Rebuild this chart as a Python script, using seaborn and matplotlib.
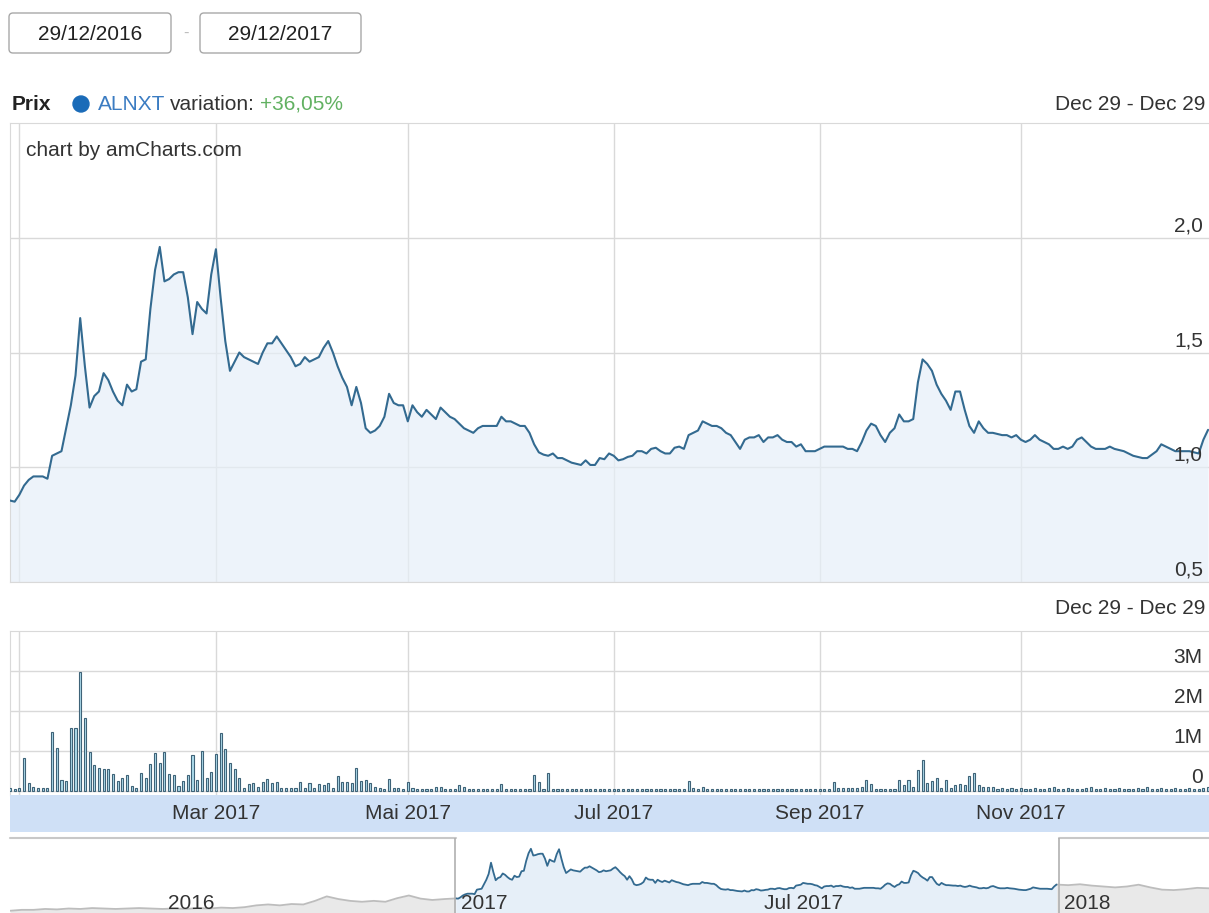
import numpy as np
import pandas as pd
import matplotlib
matplotlib.use("Agg")
import matplotlib.pyplot as plt
import matplotlib.transforms as mtransforms
from matplotlib.patches import FancyBboxPatch, Circle
import seaborn as sns

# --- data -------------------------------------------------------------
# Euronext trading days 29/12/2016 -> 29/12/2017
holidays = ["2017-04-14", "2017-04-17", "2017-05-01", "2017-12-25", "2017-12-26"]
days = pd.bdate_range("2016-12-29", "2017-12-29")
days = days[~days.isin(pd.to_datetime(holidays))]

price = [
    0.855, 0.85, 0.88, 0.92, 0.945, 0.96, 0.96, 0.96, 0.95, 1.05,
    1.06, 1.07, 1.17, 1.27, 1.40, 1.65, 1.44, 1.26, 1.31, 1.33,
    1.41, 1.38, 1.33, 1.29, 1.27, 1.36, 1.33, 1.34, 1.46, 1.47,
    1.69, 1.86, 1.96, 1.81, 1.82, 1.84, 1.85, 1.85, 1.74, 1.58,
    1.72, 1.69, 1.67, 1.84, 1.95, 1.74, 1.55, 1.42, 1.46, 1.50,
    1.48, 1.47, 1.46, 1.45, 1.50, 1.54, 1.54, 1.57, 1.54, 1.51,
    1.48, 1.44, 1.45, 1.48, 1.46, 1.47, 1.48, 1.52, 1.55, 1.50,
    1.44, 1.39, 1.35, 1.27, 1.35, 1.28, 1.17, 1.15, 1.16, 1.18,
    1.22, 1.32, 1.28, 1.27, 1.27, 1.20, 1.27, 1.24, 1.22, 1.25,
    1.23, 1.21, 1.26, 1.24, 1.22, 1.21, 1.19, 1.17, 1.16, 1.15,
    1.17, 1.18, 1.18, 1.18, 1.18, 1.22, 1.20, 1.20, 1.19, 1.18,
    1.18, 1.15, 1.10, 1.065, 1.055, 1.05, 1.06, 1.04, 1.04, 1.03,
    1.02, 1.015, 1.01, 1.03, 1.01, 1.01, 1.04, 1.035, 1.06, 1.05,
    1.03, 1.035, 1.045, 1.05, 1.07, 1.07, 1.06, 1.08, 1.085, 1.07,
    1.06, 1.06, 1.085, 1.09, 1.08, 1.14, 1.15, 1.16, 1.20, 1.19,
    1.18, 1.18, 1.17, 1.15, 1.14, 1.11, 1.08, 1.12, 1.13, 1.13,
    1.14, 1.11, 1.13, 1.13, 1.14, 1.12, 1.11, 1.11, 1.09, 1.10,
    1.07, 1.07, 1.07, 1.08, 1.09, 1.09, 1.09, 1.09, 1.09, 1.08,
    1.08, 1.07, 1.11, 1.16, 1.19, 1.18, 1.14, 1.11, 1.15, 1.17,
    1.23, 1.20, 1.20, 1.21, 1.37, 1.47, 1.45, 1.42, 1.36, 1.32,
    1.29, 1.25, 1.33, 1.33, 1.25, 1.18, 1.15, 1.20, 1.17, 1.15,
    1.15, 1.145, 1.14, 1.14, 1.13, 1.14, 1.12, 1.11, 1.12, 1.14,
    1.12, 1.11, 1.10, 1.08, 1.08, 1.09, 1.08, 1.09, 1.12, 1.13,
    1.11, 1.09, 1.08, 1.08, 1.08, 1.09, 1.08, 1.075, 1.07, 1.06,
    1.05, 1.045, 1.04, 1.04, 1.055, 1.07, 1.10, 1.09, 1.08, 1.07,
    1.07, 1.07, 1.07, 1.065, 1.06, 1.12, 1.163,
]

# volume in millions
volume = [
    0.08, 0.06, 0.08, 0.83, 0.19, 0.11, 0.08, 0.08, 0.08, 1.48,
    1.08, 0.28, 0.25, 1.58, 1.58, 2.98, 1.83, 0.98, 0.64, 0.58,
    0.56, 0.54, 0.42, 0.25, 0.33, 0.39, 0.13, 0.08, 0.44, 0.33,
    0.67, 0.94, 0.69, 0.98, 0.42, 0.39, 0.13, 0.25, 0.39, 0.89,
    0.28, 1.00, 0.33, 0.48, 0.92, 1.44, 1.04, 0.69, 0.54, 0.33,
    0.08, 0.17, 0.19, 0.11, 0.22, 0.29, 0.19, 0.22, 0.08, 0.08,
    0.08, 0.08, 0.22, 0.08, 0.21, 0.08, 0.17, 0.14, 0.20, 0.08,
    0.38, 0.23, 0.23, 0.20, 0.58, 0.25, 0.28, 0.21, 0.11, 0.08,
    0.06, 0.31, 0.08, 0.08, 0.06, 0.23, 0.08, 0.06, 0.05, 0.06,
    0.05, 0.11, 0.11, 0.05, 0.06, 0.05, 0.14, 0.11, 0.05, 0.04,
    0.05, 0.04, 0.06, 0.04, 0.05, 0.18, 0.06, 0.05, 0.04, 0.05,
    0.04, 0.06, 0.39, 0.23, 0.05, 0.44, 0.06, 0.04, 0.05, 0.04,
    0.05, 0.04, 0.04, 0.05, 0.04, 0.04, 0.05, 0.04, 0.04, 0.05,
    0.04, 0.05, 0.04, 0.04, 0.05, 0.04, 0.04, 0.05, 0.04, 0.04,
    0.05, 0.04, 0.04, 0.06, 0.05, 0.25, 0.08, 0.05, 0.11, 0.04,
    0.05, 0.04, 0.04, 0.05, 0.04, 0.04, 0.05, 0.04, 0.04, 0.06,
    0.04, 0.05, 0.04, 0.04, 0.06, 0.04, 0.04, 0.05, 0.04, 0.04,
    0.05, 0.04, 0.04, 0.05, 0.04, 0.06, 0.23, 0.07, 0.07, 0.07,
    0.07, 0.07, 0.11, 0.28, 0.17, 0.05, 0.05, 0.05, 0.05, 0.06,
    0.28, 0.15, 0.28, 0.11, 0.53, 0.78, 0.19, 0.25, 0.33, 0.08,
    0.28, 0.08, 0.15, 0.17, 0.15, 0.38, 0.44, 0.15, 0.11, 0.11,
    0.11, 0.06, 0.07, 0.06, 0.07, 0.06, 0.07, 0.06, 0.06, 0.07,
    0.06, 0.06, 0.07, 0.10, 0.06, 0.06, 0.07, 0.06, 0.06, 0.06,
    0.07, 0.10, 0.06, 0.06, 0.07, 0.06, 0.06, 0.07, 0.06, 0.06,
    0.06, 0.07, 0.06, 0.10, 0.06, 0.06, 0.07, 0.06, 0.06, 0.07,
    0.06, 0.06, 0.07, 0.06, 0.06, 0.08, 0.10,
]

# scrollbar context series (weekly), before and after the selected year
scroll_2015 = [0.58, 0.60, 0.60, 0.62, 0.61, 0.63, 0.62, 0.64, 0.63, 0.62, 0.63, 0.64, 0.63]
scroll_2016 = [0.62, 0.63, 0.62, 0.64, 0.63, 0.65, 0.64, 0.66, 0.70, 0.72, 0.70, 0.73, 0.72,
               0.80, 0.90, 0.84, 0.80, 0.78, 0.80, 0.78, 0.86, 0.92, 0.85, 0.82, 0.84]
scroll_2018 = [1.15, 1.17, 1.14, 1.12, 1.10, 1.12, 1.16, 1.10, 1.05, 1.04, 1.06, 1.09, 1.08]

price_ticks = [0.5, 1.0, 1.5, 2.0]
price_tick_labels = ["0,5", "1,0", "1,5", "2,0"]
vol_ticks = [0, 1, 2, 3]
vol_tick_labels = ["0", "1M", "2M", "3M"]
grid_months = [1, 3, 5, 7, 9, 11]
month_labels = ["Mar 2017", "Mai 2017", "Jul 2017", "Sep 2017", "Nov 2017"]

# --- style ------------------------------------------------------------
sns.set_style("white")
plt.rcParams["font.family"] = ["Liberation Sans", "DejaVu Sans"]
FS = 15
LINE = "#336a90"
FILL = "#e6eff8"
GRID = "#d9d9d9"
TXT = "#333333"

idx = np.arange(len(days))
assert len(price) == len(days) and len(volume) == len(days)
in2017 = days.year == 2017
month_idx = [int(np.where(in2017 & (days.month == m))[0][0]) for m in grid_months]

W, H = 1209, 913
fig = plt.figure(figsize=(W / 100, H / 100), dpi=100)


def frac(x0, y0, x1, y1):
    return [x0 / W, 1 - y1 / H, (x1 - x0) / W, (y1 - y0) / H]


def px(x, y):
    return x / W, 1 - y / H


xmax = len(days) - 0.8

# --- price panel ------------------------------------------------------
ax_p = fig.add_axes(frac(10, 123, 1209, 582))
ax_p.fill_between(idx, price, 0.5, color=FILL, alpha=0.7, lw=0, zorder=1)
sns.lineplot(x=idx, y=price, ax=ax_p, color=LINE, linewidth=1.5, zorder=3)
ax_p.set_xlim(0, xmax)
ax_p.set_ylim(0.5, 2.5)
for v in price_ticks:
    ax_p.axhline(v, color=GRID, lw=1, zorder=0.5)
for m in month_idx:
    ax_p.axvline(m, color=GRID, lw=1, zorder=0.5)
for v, lab in zip(price_ticks, price_tick_labels):
    ax_p.annotate(lab, xy=(1, v), xycoords=("axes fraction", "data"), xytext=(-4.5, 8.5),
                  textcoords="offset points", ha="right", va="center", fontsize=FS, color=TXT)
ax_p.set_xticks([]); ax_p.set_yticks([])
ax_p.set_xlabel(""); ax_p.set_ylabel("")
for s in ["left", "top", "bottom"]:
    ax_p.spines[s].set_color(GRID)
ax_p.spines["right"].set_visible(False)
ax_p.text(16 / 1199, 1 - 27 / 459, "chart by amCharts.com", transform=ax_p.transAxes,
          fontsize=FS, color=TXT, ha="left", va="center")

# --- volume panel -----------------------------------------------------
ax_v = fig.add_axes(frac(10, 631, 1209, 795))
sns.barplot(x=idx, y=volume, ax=ax_v, native_scale=True, width=0.45, color="#aedcec",
            saturation=1, edgecolor="#3f6378", linewidth=0.8, errorbar=None, zorder=3)
ax_v.set_xlim(0, xmax)
ax_v.set_ylim(-0.1, 4.0)
for v in vol_ticks:
    ax_v.axhline(v, color=GRID, lw=1, zorder=0.5)
for m in month_idx:
    ax_v.axvline(m, color=GRID, lw=1, zorder=0.5)
for v, lab in zip(vol_ticks, vol_tick_labels):
    ax_v.annotate(lab, xy=(1, v), xycoords=("axes fraction", "data"), xytext=(-4.5, 10),
                  textcoords="offset points", ha="right", va="center", fontsize=FS, color=TXT)
ax_v.set_xticks([]); ax_v.set_yticks([])
ax_v.set_xlabel(""); ax_v.set_ylabel("")
for s in ["left", "top"]:
    ax_v.spines[s].set_color(GRID)
ax_v.spines["right"].set_visible(False)
ax_v.spines["bottom"].set_visible(False)

# --- category axis band -----------------------------------------------
ax_b = fig.add_axes(frac(10, 795, 1209, 832))
ax_b.set_facecolor("#cfe0f6")
ax_b.set_xlim(0, xmax)
ax_b.set_ylim(0, 1)
blend = mtransforms.blended_transform_factory(ax_b.transData, ax_b.transAxes)
for m, lab in zip(month_idx[1:], month_labels):
    ax_b.text(m, 0.5, lab, transform=blend, ha="center", va="center", fontsize=FS, color=TXT)
ax_b.set_xticks([]); ax_b.set_yticks([])
for s in ax_b.spines.values():
    s.set_visible(False)

# --- scrollbar --------------------------------------------------------
ax_s = fig.add_axes(frac(10, 838, 1209, 913))
n_before = len(scroll_2015) + len(scroll_2016)
x_before = np.arange(-n_before, 0) * 5
x_after = idx[-1] + 5 * np.arange(1, len(scroll_2018) + 1)
y_before = scroll_2015 + scroll_2016
gx1 = np.append(x_before, 0)
gy1 = y_before + [price[0]]
gx2 = np.insert(x_after, 0, idx[-1])
gy2 = [price[-1]] + scroll_2018
slo, shi = 0.53, 2.2
for gx, gy in [(gx1, gy1), (gx2, gy2)]:
    ax_s.fill_between(gx, gy, slo, color="#e9e9e9", lw=0)
    sns.lineplot(x=gx, y=gy, ax=ax_s, color="#bdbdbd", linewidth=1.3)
ax_s.fill_between(idx, price, slo, color=FILL, lw=0)
sns.lineplot(x=idx, y=price, ax=ax_s, color=LINE, linewidth=1.3)
ax_s.set_xlim(x_before[0], x_after[-1])
ax_s.set_ylim(slo, shi)
ax_s.plot([x_before[0], 0], [shi, shi], color="#c8c8c8", lw=1.5, clip_on=False)
ax_s.plot([idx[-1] + 1, x_after[-1]], [shi, shi], color="#c8c8c8", lw=1.5, clip_on=False)
ax_s.axvline(-0.5, color="#b0b0b0", lw=1.2)
ax_s.axvline(idx[-1] + 1, color="#b0b0b0", lw=1.2)
sblend = mtransforms.blended_transform_factory(ax_s.transData, ax_s.transAxes)
jul_idx = month_idx[3]
for xi, lab in [(-len(scroll_2016) * 5, "2016"), (0, "2017"), (jul_idx, "Jul 2017"),
                (idx[-1] + 1, "2018")]:
    ax_s.annotate(lab, xy=(xi, 0.13), xycoords=sblend, xytext=(4, 0), textcoords="offset points",
                  ha="left", va="center", fontsize=FS, color=TXT)
ax_s.set_xticks([]); ax_s.set_yticks([])
ax_s.set_xlabel(""); ax_s.set_ylabel("")
for s in ax_s.spines.values():
    s.set_visible(False)

# --- header -----------------------------------------------------------
ident = mtransforms.IdentityTransform()
for x0, x1, lab in [(9, 171, "29/12/2016"), (200, 361, "29/12/2017")]:
    fig.add_artist(FancyBboxPatch((x0, H - 53), x1 - x0, 40,
                                  boxstyle="round,pad=0,rounding_size=4",
                                  transform=ident, facecolor="white", edgecolor="#a8a8a8", lw=1))
    fig.text(*px((x0 + x1) / 2, 34), lab, ha="center", va="center", fontsize=FS, color="#222222")
fig.text(*px(186, 33), "-", ha="center", va="center", fontsize=FS - 3, color="#bbbbbb")

fig.text(*px(12, 104), "Prix", ha="left", va="center", fontsize=FS, fontweight="bold", color="#222222")
fig.add_artist(Circle((81, H - 104), 8, transform=ident, color="#1a6bb8"))

# legend pieces placed one after the other
renderer = fig.canvas.get_renderer()
x_cur = 98
for lab, col in [("ALNXT", "#3b7cc2"), ("variation:", TXT), ("+36,05%", "#62b162")]:
    t = fig.text(*px(x_cur, 104), lab, ha="left", va="center", fontsize=FS, color=col)
    x_cur = t.get_window_extent(renderer).x1 + 5

fig.text(*px(1205, 104), "Dec 29 - Dec 29", ha="right", va="center", fontsize=FS, color=TXT)
fig.text(*px(1205, 608), "Dec 29 - Dec 29", ha="right", va="center", fontsize=FS, color=TXT)

fig.savefig("out.png", dpi=100, facecolor="white")
plt.close(fig)
